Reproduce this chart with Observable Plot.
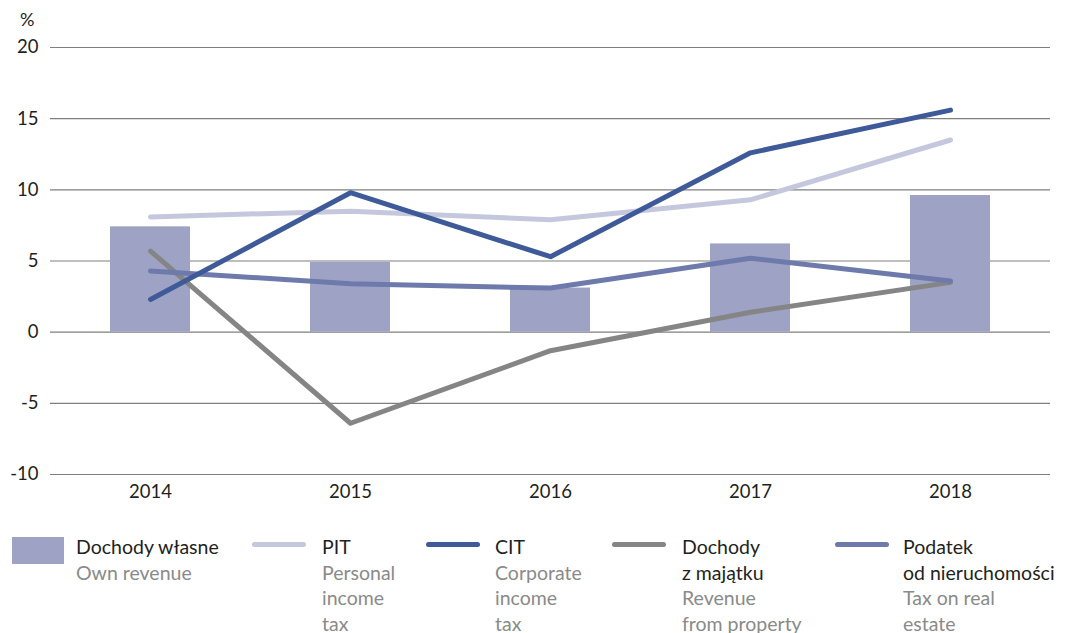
<!DOCTYPE html>
<html>
<head>
<meta charset="utf-8">
<script src="https://cdn.jsdelivr.net/npm/d3@7"></script>
<script src="https://cdn.jsdelivr.net/npm/@observablehq/plot@0.6"></script>
<style>
  html, body { margin: 0; padding: 0; background: #fff; }
  #wrap { position: relative; width: 1067px; height: 633px; font-family: Lato, "Noto Sans", sans-serif; color: #231f20; overflow: hidden; }
  #unit { position: absolute; left: 20px; top: 8px; font-size: 18px; }
  #chart { position: absolute; left: 0; top: 0; }
  .leg { position: absolute; top: 534px; font-size: 19.5px; line-height: 25.5px; }
  .leg .sub { color: #8a8a8a; }
  .sw { position: absolute; }
</style>
</head>
<body>
<div id="wrap">
  <div id="chart"></div>
  <div id="unit">%</div>
  <div id="legend"></div>
</div>
<script>
const years = ["2014", "2015", "2016", "2017", "2018"];
const ownRevenue = [7.4, 4.9, 3.1, 6.2, 9.6];
const pit = [8.1, 8.5, 7.9, 9.3, 13.5];
const cit = [2.3, 9.8, 5.3, 12.6, 15.6];
const propertyIncome = [5.7, -6.4, -1.3, 1.4, 3.5];
const realEstateTax = [4.3, 3.4, 3.1, 5.2, 3.6];
const yTicks = [-10, -5, 0, 5, 10, 15, 20];

const seriesNames = ["PIT", "Dochody z majątku", "Podatek od nieruchomości", "CIT"];
const seriesValues = [pit, propertyIncome, realEstateTax, cit];
const seriesColors = ["#c5c7de", "#858585", "#6e7aab", "#3e5a98"];

const barData = years.map((y, i) => ({year: y, value: ownRevenue[i]}));
const lineData = seriesNames.flatMap((name, s) =>
  years.map((y, i) => ({series: name, year: y, value: seriesValues[s][i]})));

const chart = Plot.plot({
  width: 1067,
  height: 518,
  marginLeft: 50,
  marginRight: 17,
  marginTop: 47,
  marginBottom: 44,
  style: {fontFamily: "Lato, 'Noto Sans', sans-serif", fontSize: "18.5px", color: "#231f20", background: "transparent"},
  x: {domain: years, type: "band", paddingInner: 0.6, paddingOuter: 0.3, label: null, tickSize: 0, tickPadding: 10},
  y: {domain: [-10, 20], ticks: yTicks, label: null, tickSize: 0, tickPadding: 12, tickFormat: d => String(d)},
  color: {domain: seriesNames, range: seriesColors},
  marks: [
    Plot.ruleY(yTicks, {stroke: "#7f7f7f", strokeWidth: 1.1}),
    Plot.barY(barData, {x: "year", y: "value", fill: "#9ea3c6"}),
    Plot.lineY(lineData, {x: "year", y: "value", z: "series", stroke: "series", strokeWidth: 5, strokeLinecap: "round", strokeLinejoin: "round", curve: "linear"})
  ]
});
document.getElementById("chart").appendChild(chart);

const legendItems = [
  {x: 12, type: "box", color: "#9ea3c6", main: ["Dochody własne"], sub: ["Own revenue"], tx: 76},
  {x: 252, type: "line", color: "#c5c7de", main: ["PIT"], sub: ["Personal", "income", "tax"], tx: 322},
  {x: 426, type: "line", color: "#3e5a98", main: ["CIT"], sub: ["Corporate", "income", "tax"], tx: 495},
  {x: 612, type: "line", color: "#858585", main: ["Dochody", "z majątku"], sub: ["Revenue", "from property"], tx: 682},
  {x: 835, type: "line", color: "#6e7aab", main: ["Podatek", "od nieruchomości"], sub: ["Tax on real", "estate"], tx: 903}
];
const legend = document.getElementById("legend");
legendItems.forEach(it => {
  const sw = document.createElement("div");
  sw.className = "sw";
  if (it.type === "box") {
    Object.assign(sw.style, {left: it.x + "px", top: "537px", width: "52px", height: "27px", background: it.color});
  } else {
    Object.assign(sw.style, {left: it.x + "px", top: "542px", width: "54px", height: "5px", borderRadius: "3px", background: it.color});
  }
  legend.appendChild(sw);
  const t = document.createElement("div");
  t.className = "leg";
  t.style.left = it.tx + "px";
  t.innerHTML = it.main.map(s => `<div>${s}</div>`).join("") + it.sub.map(s => `<div class="sub">${s}</div>`).join("");
  legend.appendChild(t);
});
</script>
</body>
</html>
